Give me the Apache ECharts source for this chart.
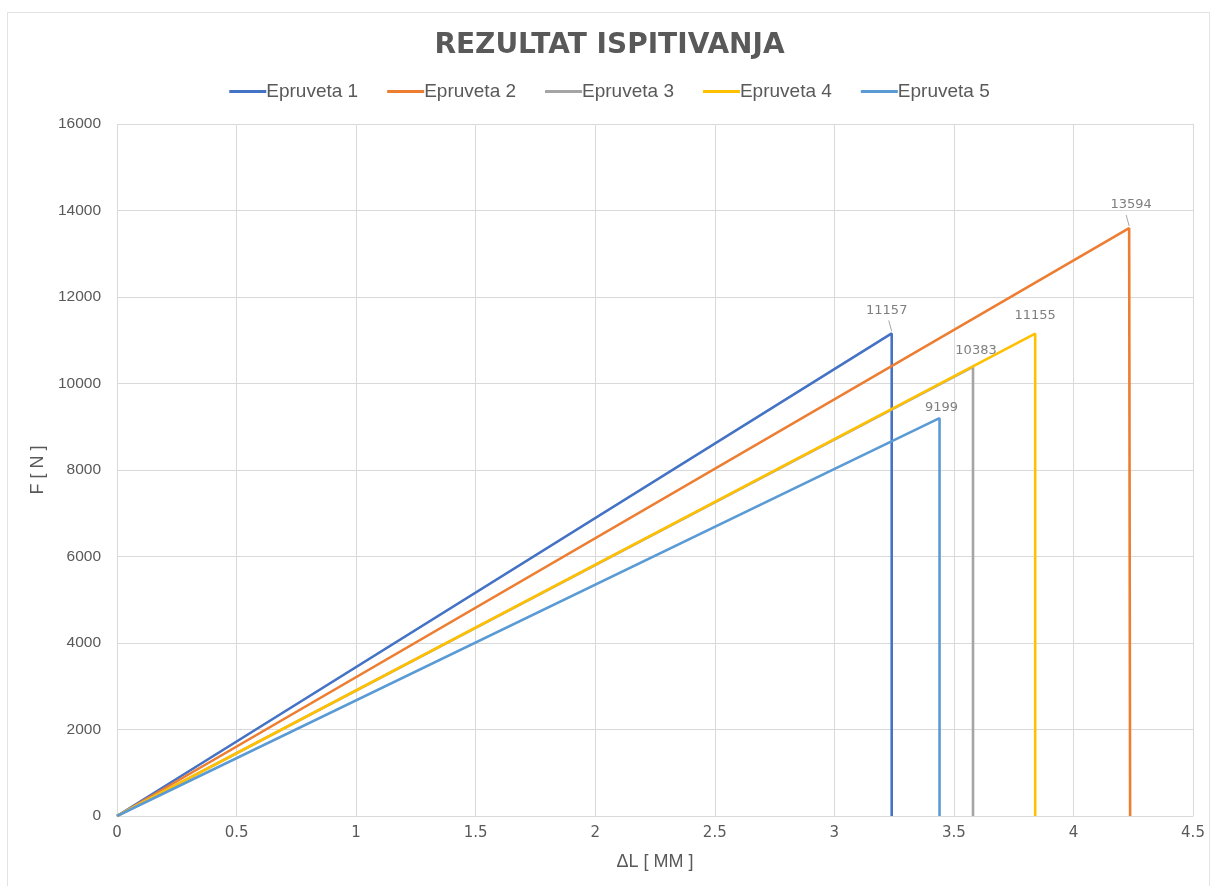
<!DOCTYPE html>
<html>
<head>
<meta charset="utf-8">
<script src="https://cdn.jsdelivr.net/npm/echarts@6/dist/echarts.min.js"></script>
<style>
  html, body { margin: 0; padding: 0; background: #fff; }
  #frame { position: absolute; left: 7px; top: 12px; width: 1203px; height: 880px; border: 1px solid #e3e3e3; box-sizing: border-box; }
  #chart { position: absolute; left: 0; top: 0; width: 1219px; height: 886px; }
</style>
</head>
<body>
<div id="frame"></div>
<div id="chart"></div>
<script>
// test results: deformation at break (mm) and max force (N)
const seriesNames = ['Epruveta 1', 'Epruveta 2', 'Epruveta 3', 'Epruveta 4', 'Epruveta 5']
const peakX = [3.24, 4.233, 3.58, 3.84, 3.44]
const peakF = [11157, 13594, 10383, 11155, 9199]
const dropX = [3.24, 4.237, 3.58, 3.84, 3.44]
const colors = ['#4472C4', '#ED7D31', '#A5A5A5', '#FFC000', '#5B9BD5']
const xTicks = [0, 0.5, 1, 1.5, 2, 2.5, 3, 3.5, 4, 4.5]
const yTicks = [0, 2000, 4000, 6000, 8000, 10000, 12000, 14000, 16000]

// label placement per series, leader line shown for 1 and 2
const labelDist = [16, 17, 10, 11, 4]
const labelDx = [-5, 2, 3, 0, 2]
const labelLines = [true, true, false, false, false]

const font = 'Liberation Sans, Arial, sans-serif'

const chart = echarts.init(document.getElementById('chart'))

const series = seriesNames.map((name, i) => ({
    name: name,
    type: 'line',
    symbol: 'circle',
    symbolSize: 0,
    showSymbol: true,
    animation: false,
    lineStyle: { color: colors[i], width: 2.6 },
    itemStyle: { color: colors[i] },
    emphasis: { disabled: true },
    data: [
        [0, 0],
        {
            value: [peakX[i], peakF[i]],
            label: {
                show: true,
                position: 'top',
                distance: labelDist[i],
                offset: [labelDx[i], 0],
                color: '#7f7f7f',
                fontSize: 13,
                fontFamily: 'DejaVu Sans, sans-serif',
                formatter: () => String(peakF[i])
            }
        },
        [dropX[i], 0]
    ]
}))

// short leader lines from the labels of series 1 and 2 to their peaks
seriesNames.forEach((name, i) => {
    if (!labelLines[i]) return
    series.push({
        type: 'custom',
        silent: true,
        animation: false,
        z: 1,
        data: [[peakX[i], peakF[i]]],
        renderItem: (params, api) => {
            const p = api.coord([api.value(0), api.value(1)])
            return {
                type: 'line',
                shape: { x1: p[0] - 3, y1: p[1] - 13, x2: p[0], y2: p[1] - 2 },
                style: { stroke: '#a6a6a6', lineWidth: 1 }
            }
        }
    })
})

const option = {
    animation: false,
    title: {
        text: 'REZULTAT ISPITIVANJA',
        left: 'center',
        top: 27,
        textStyle: {
            color: '#595959',
            fontSize: 28,
            fontWeight: 'bold',
            fontFamily: 'DejaVu Sans, sans-serif'
        }
    },
    legend: {
        top: 77,
        left: 'center',
        itemWidth: 37,
        itemHeight: 3,
        itemGap: 29,
        icon: 'rect',
        textStyle: { color: '#595959', fontSize: 19, fontFamily: font, padding: [0, 0, 0, -5] },
        data: seriesNames
    },
    grid: { left: 117, right: 26, top: 124, bottom: 70 },
    xAxis: {
        type: 'value',
        min: 0,
        max: 4.5,
        interval: 0.5,
        name: 'ΔL [ MM ]',
        nameLocation: 'middle',
        nameGap: 37,
        nameTextStyle: { color: '#595959', fontSize: 18, fontFamily: font },
        axisLine: { show: true, lineStyle: { color: '#d9d9d9' } },
        axisTick: { show: false },
        axisLabel: {
            color: '#595959', fontSize: 15, margin: 10,
            fontFamily: 'DejaVu Sans, sans-serif',
            formatter: v => xTicks.includes(v) ? String(v) : ''
        },
        splitLine: { show: true, lineStyle: { color: '#d9d9d9', width: 1 } }
    },
    yAxis: {
        type: 'value',
        min: 0,
        max: 16000,
        interval: 2000,
        name: 'F [ N ]',
        nameLocation: 'middle',
        nameGap: 64,
        nameTextStyle: { color: '#595959', fontSize: 18, fontFamily: font },
        axisLine: { show: false },
        axisTick: { show: false },
        axisLabel: {
            color: '#595959', fontSize: 15.5, margin: 16,
            fontFamily: font,
            formatter: v => yTicks.includes(v) ? String(v) : ''
        },
        splitLine: { show: true, lineStyle: { color: '#d9d9d9', width: 1 } }
    },
    series: series
}

chart.setOption(option)
</script>
</body>
</html>
